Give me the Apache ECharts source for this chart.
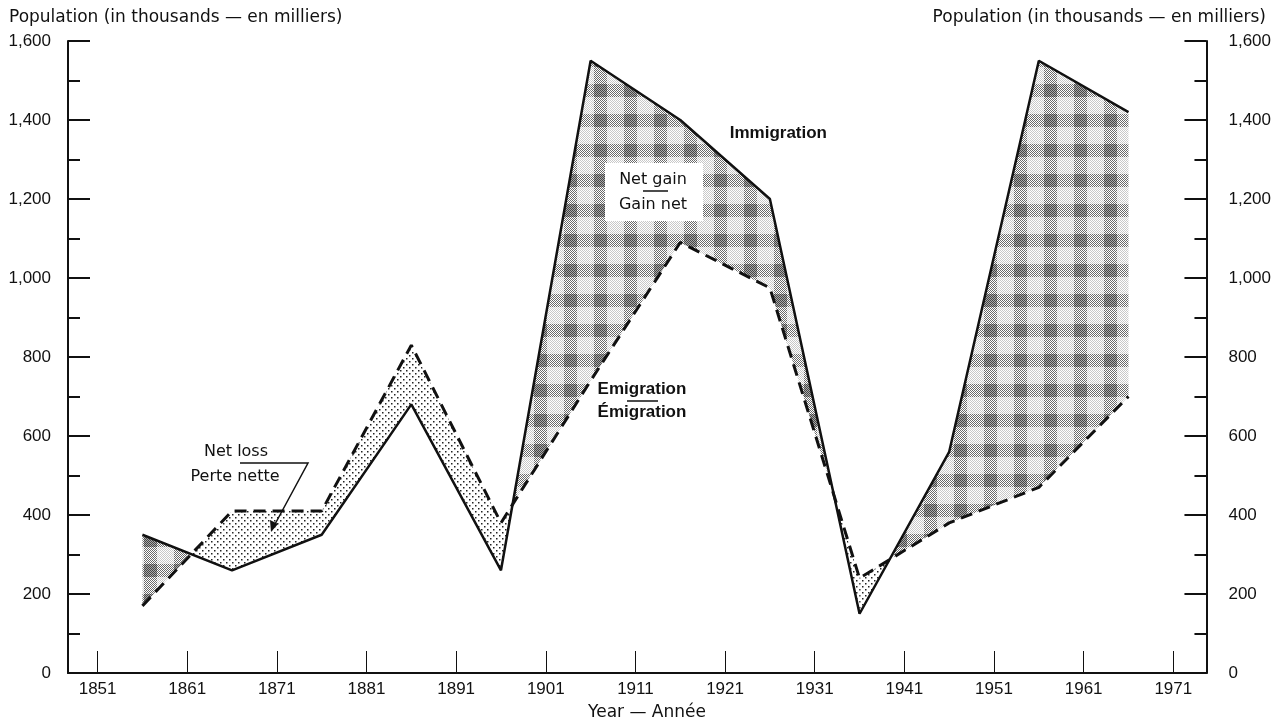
<!DOCTYPE html>
<html>
<head>
<meta charset="utf-8">
<script src="https://cdn.jsdelivr.net/npm/echarts@6/dist/echarts.min.js"></script>
<style>
  html, body { margin: 0; padding: 0; background: #fff; }
  #box { width: 1274px; height: 726px; }
</style>
</head>
<body>
<div id="box"></div>
<script>
// decade midpoints (1851-61 ... 1961-71)
var years = [1856, 1866, 1876, 1886, 1896, 1906, 1916, 1926, 1936, 1946, 1956, 1966]
var immigration = [350, 260, 350, 680, 260, 1550, 1400, 1200, 150, 560, 1550, 1420]
var emigration = [170, 410, 410, 830, 380, 740, 1090, 975, 240, 380, 470, 700]
var yearTicks = [1851, 1861, 1871, 1881, 1891, 1901, 1911, 1921, 1931, 1941, 1951, 1961, 1971]

var font = '"Liberation Sans", Arial, sans-serif'
var wideFont = '"DejaVu Sans", sans-serif'

// dotted texture for net loss
function lossPattern() {
    var c = document.createElement('canvas')
    c.width = 6; c.height = 6
    var ctx = c.getContext('2d')
    ctx.fillStyle = '#fff'
    ctx.fillRect(0, 0, 6, 6)
    ctx.fillStyle = '#222'
    ctx.fillRect(1, 1, 1.5, 1.5)
    ctx.fillRect(4, 4, 1.5, 1.5)
    return c
}
// plaid-like screen for net gain
function gainPattern() {
    var n = 30
    var c = document.createElement('canvas')
    c.width = n; c.height = n
    var ctx = c.getContext('2d')
    ctx.fillStyle = '#fff'
    ctx.fillRect(0, 0, n, n)
    for (var x = 0; x < n; x++) {
        for (var y = 0; y < n; y++) {
            var bx = Math.cos(2 * Math.PI * x / n) > 0.2
            var by = Math.cos(2 * Math.PI * y / n) > 0.2
            if ((x + y) % 2 === 0) {
                ctx.fillStyle = (bx && by) ? '#444' : (bx || by) ? '#6a6a6a' : '#c8c8c8'
                ctx.fillRect(x, y, 1, 1)
            } else if (bx && by) {
                ctx.fillStyle = '#aaa'
                ctx.fillRect(x, y, 1, 1)
            }
        }
    }
    return c
}
var gainFill = { image: gainPattern(), repeat: 'repeat' }
var lossFill = { image: lossPattern(), repeat: 'repeat' }

function renderBand(params, api) {
    var i = api.value(1)
    var p1 = api.coord([years[i], immigration[i]])
    var p2 = api.coord([years[i + 1], immigration[i + 1]])
    var q1 = api.coord([years[i], emigration[i]])
    var q2 = api.coord([years[i + 1], emigration[i + 1]])
    var d1 = immigration[i] - emigration[i]
    var d2 = immigration[i + 1] - emigration[i + 1]
    var children = []
    if (d1 * d2 >= 0) {
        children.push({
            type: 'polygon',
            shape: { points: [p1, p2, q2, q1] },
            style: { fill: (d1 + d2) >= 0 ? gainFill : lossFill }
        })
    } else {
        var t = d1 / (d1 - d2)
        var c = [p1[0] + t * (p2[0] - p1[0]), p1[1] + t * (p2[1] - p1[1])]
        children.push({
            type: 'polygon',
            shape: { points: [p1, c, q1] },
            style: { fill: d1 > 0 ? gainFill : lossFill }
        })
        children.push({
            type: 'polygon',
            shape: { points: [c, p2, q2] },
            style: { fill: d2 > 0 ? gainFill : lossFill }
        })
    }
    return { type: 'group', children: children }
}

var yAxisBase = {
    type: 'value',
    min: 0,
    max: 1600,
    interval: 200,
    axisLine: { show: true, lineStyle: { color: '#111', width: 2 } },
    axisTick: { show: true, inside: true, length: 22, lineStyle: { color: '#111', width: 2 } },
    minorTick: { show: true, splitNumber: 2, length: 12, lineStyle: { color: '#111', width: 2 } },
    splitLine: { show: false },
    axisLabel: {
        color: '#111', fontFamily: font, fontSize: 17,
        formatter: function (v) { return v.toLocaleString('en-US') }
    }
}

var Chart = echarts.init(document.getElementById('box'))
var option = {
    backgroundColor: '#fff',
    animation: false,
    grid: { left: 68, right: 62, top: 41, bottom: 53 },
    xAxis: {
        type: 'value',
        min: 1847.7,
        max: 1974.7,
        axisLine: { lineStyle: { color: '#111', width: 2 } },
        axisTick: { show: true, inside: true, length: 22, customValues: yearTicks, lineStyle: { color: '#111', width: 1 } },
        axisLabel: {
            customValues: yearTicks, margin: 8, color: '#111', fontFamily: font, fontSize: 17,
            formatter: function (v) { return String(v) }
        },
        splitLine: { show: false }
    },
    yAxis: [
        Object.assign({}, yAxisBase, { position: 'left', axisLabel: Object.assign({}, yAxisBase.axisLabel, { margin: 17 }) }),
        Object.assign({}, yAxisBase, { position: 'right', axisLabel: Object.assign({}, yAxisBase.axisLabel, { margin: 22 }) })
    ],
    series: [
        {
            type: 'custom',
            silent: true,
            renderItem: renderBand,
            data: years.slice(0, -1).map(function (y, i) { return [y, i] }),
            z: 1
        },
        {
            name: 'Immigration',
            type: 'line',
            data: years.map(function (y, i) { return [y, immigration[i]] }),
            symbol: 'none',
            lineStyle: { color: '#111', width: 2.5 },
            z: 3
        },
        {
            name: 'Emigration',
            type: 'line',
            data: years.map(function (y, i) { return [y, emigration[i]] }),
            symbol: 'none',
            lineStyle: { color: '#111', width: 3, type: [12, 7] },
            z: 3
        }
    ],
    graphic: [
        { type: 'text', left: 9, top: 9, style: { text: 'Population (in thousands — en milliers)', font: '17px ' + wideFont, fill: '#111' } },
        { type: 'text', right: 8, top: 9, style: { text: 'Population (in thousands — en milliers)', font: '17px ' + wideFont, fill: '#111' } },
        { type: 'text', x: 647, y: 713, style: { text: 'Year — Année', font: '17px ' + wideFont, fill: '#111', align: 'center', verticalAlign: 'middle' } },
        { type: 'text', x: 827, y: 133, z: 10, style: { text: 'Immigration', font: 'bold 17px ' + font, fill: '#111', align: 'right', verticalAlign: 'middle' } },
        { type: 'rect', shape: { x: 605, y: 163, width: 98, height: 58 }, style: { fill: '#fff' }, z: 9 },
        { type: 'text', x: 653, y: 180, z: 10, style: { text: 'Net gain', font: '16px ' + wideFont, fill: '#111', align: 'center', verticalAlign: 'middle' } },
        { type: 'line', shape: { x1: 643, y1: 191, x2: 668, y2: 191 }, style: { stroke: '#111', lineWidth: 1.5 }, z: 10 },
        { type: 'text', x: 653, y: 205, z: 10, style: { text: 'Gain net', font: '16px ' + wideFont, fill: '#111', align: 'center', verticalAlign: 'middle' } },
        { type: 'text', x: 642, y: 389, z: 10, style: { text: 'Emigration', font: 'bold 17px ' + font, fill: '#111', align: 'center', verticalAlign: 'middle' } },
        { type: 'line', shape: { x1: 627, y1: 401, x2: 658, y2: 401 }, style: { stroke: '#111', lineWidth: 1.5 }, z: 10 },
        { type: 'text', x: 642, y: 412, z: 10, style: { text: 'Émigration', font: 'bold 17px ' + font, fill: '#111', align: 'center', verticalAlign: 'middle' } },
        { type: 'text', x: 236, y: 452, z: 10, style: { text: 'Net loss', font: '16px ' + wideFont, fill: '#111', align: 'center', verticalAlign: 'middle' } },
        { type: 'text', x: 235, y: 477, z: 10, style: { text: 'Perte nette', font: '16px ' + wideFont, fill: '#111', align: 'center', verticalAlign: 'middle' } },
        { type: 'polyline', shape: { points: [[240, 463], [308, 463], [274, 526]] }, style: { stroke: '#111', lineWidth: 1.5, fill: null }, z: 10 },
        { type: 'polygon', shape: { points: [[271, 532], [270, 520], [278, 524]] }, style: { fill: '#111' }, z: 10 }
    ]
}
Chart.setOption(option)
</script>
</body>
</html>
